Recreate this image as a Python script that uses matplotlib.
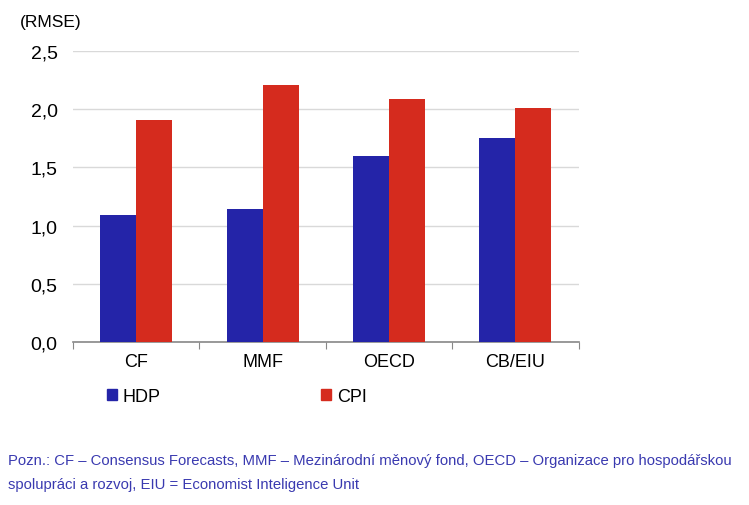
import numpy as np
import matplotlib
matplotlib.use("Agg")
import matplotlib.pyplot as plt
from matplotlib.patches import Patch

plt.rcParams['font.family'] = ['Liberation Sans', 'DejaVu Sans']

# data
categories = ["CF", "MMF", "OECD", "CB/EIU"]
hdp = [1.09, 1.14, 1.60, 1.75]
cpi = [1.91, 2.21, 2.09, 2.01]
yticks = [0.0, 0.5, 1.0, 1.5, 2.0, 2.5]
ytick_labels = ["0,0", "0,5", "1,0", "1,5", "2,0", "2,5"]
note = ("Pozn.: CF – Consensus Forecasts, MMF – Mezinárodní měnový fond, OECD – Organizace pro hospodářskou\n"
        "spolupráci a rozvoj, EIU = Economist Inteligence Unit")

blue = "#2424a8"
red = "#d52b1e"

fig = plt.figure(figsize=(7.49, 5.06), dpi=100)
ax = fig.add_axes([0.0975, 0.322, 0.675, 0.575])

x = np.arange(len(categories))
w = 0.285
ax.bar(x - w / 2, hdp, width=w, color=blue, zorder=3)
ax.bar(x + w / 2, cpi, width=w, color=red, zorder=3)

ax.set_xlim(-0.5, len(categories) - 0.5)
ax.set_ylim(0, 2.5)
ax.set_yticks(yticks)
ax.set_yticklabels(ytick_labels, fontsize=14)
ax.yaxis.grid(True, color="#d9d9d9", linewidth=1, zorder=0)
ax.tick_params(axis="y", length=0, pad=11)

# category labels between boundary ticks
ax.set_xticks(np.arange(-0.5, len(categories)), minor=False)
ax.set_xticklabels([])
ax.set_xticks(x, minor=True)
ax.set_xticklabels(categories, minor=True, fontsize=13)
ax.tick_params(axis="x", which="major", length=5, color="#888888", direction="out")
ax.tick_params(axis="x", which="minor", length=0, pad=8)

for s in ["top", "right", "left"]:
    ax.spines[s].set_visible(False)
ax.spines["bottom"].set_color("#888888")
ax.spines["bottom"].set_linewidth(1.2)

fig.text(20 / 749, 1 - 22 / 506, "(RMSE)", fontsize=12.5, va="center", ha="left")

handles = [Patch(color=blue, label="HDP"), Patch(color=red, label="CPI")]
fig.legend(handles=handles, ncol=2, loc="center left", bbox_to_anchor=(91 / 749, 1 - 397 / 506),
           frameon=False, fontsize=13, handlelength=0.55, handleheight=0.55,
           handletextpad=0.3, columnspacing=8.9)

fig.text(8 / 749, 1 - 473 / 506, note, fontsize=10.7, color="#3a3ab0", va="center", ha="left",
         linespacing=1.85)

fig.savefig("out.png", dpi=100)
